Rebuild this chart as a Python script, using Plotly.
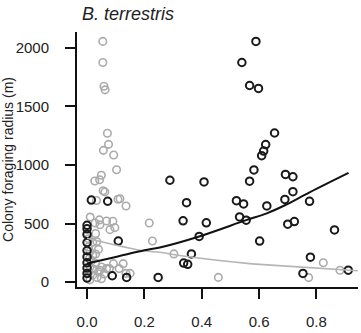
import plotly.graph_objects as go

# Black series (x, y)
black_x = [0.589, 0.540, 0.567, 0.598, 0.654, 0.623, 0.616, 0.609, 0.289, 0.408,
           0.567, 0.582, 0.347, 0.335, 0.416, 0.391, 0.364, 0.337, 0.351, 0.248,
           0.521, 0.546, 0.532, 0.555, 0.602, 0.692, 0.718, 0.718, 0.690, 0.627,
           0.776, 0.700, 0.723, 0.863, 0.779, 0.753, 0.911, 0.109, 0.088, 0.138,
           0.015, 0.072, 0.0, 0.0, 0.0, 0.0, 0.0, 0.0, 0.0, 0.0, 0.0, 0.0]
black_y = [2053, 1873, 1677, 1652, 1272, 1173, 1118, 1079, 869, 855,
           861, 957, 678, 523, 506, 390, 241, 163, 152, 41,
           695, 667, 556, 529, 351, 919, 899, 772, 706, 650,
           689, 495, 517, 446, 213, 75, 102, 351, 55, 41,
           700, 690, 485, 455, 408, 338, 270, 215, 165, 120, 75, 35]

# Gray series (x, y)
gray_x = [0.055, 0.055, 0.059, 0.063, 0.071, 0.075, 0.057, 0.093, 0.103, 0.050,
          0.027, 0.044, 0.062, 0.033, 0.108, 0.136, 0.056, 0.115,
          0.011, 0.028, 0.045, 0.043, 0.068, 0.090, 0.080, 0.030, 0.020, 0.034,
          0.217, 0.228, 0.097,
          0.126, 0.092, 0.150, 0.045, 0.068, 0.078, 0.112, 0.136,
          0.005, 0.010, 0.020, 0.008, 0.015, 0.030, 0.010, 0.025, 0.040, 0.005,
          0.020, 0.035, 0.010, 0.050, 0.060, 0.050, 0.030, 0.000, 0.005, 0.040,
          0.303, 0.458, 0.773, 0.824, 0.882]
gray_y = [2053, 1873, 1670, 1640, 1270, 1175, 1124, 1085, 958, 912,
          863, 873, 770, 697, 707, 650, 780, 711,
          555, 504, 490, 531, 522, 520, 448, 415, 340, 346,
          504, 351, 465,
          158, 158, 75, 102, 116, 116, 116, 75,
          300, 260, 230, 200, 180, 160, 130, 110, 90, 80,
          60, 40, 20, 130, 70, 30, 240, 400, 370, 280,
          241, 41, 39, 166, 102]

# Fitted curves
black_fit_x = [0.0, 0.1, 0.2, 0.254, 0.391, 0.555, 0.627, 0.690, 0.776, 0.912]
black_fit_y = [160, 215, 272, 296, 390, 529, 587, 656, 766, 932]
gray_fit_x = [0.0, 0.196, 0.254, 0.323, 0.567, 0.602, 0.944]
gray_fit_y = [375, 268, 255, 227, 158, 152, 97]

x_ticks = [0.0, 0.2, 0.4, 0.6, 0.8]
x_tick_labels = ["0.0", "0.2", "0.4", "0.6", "0.8"]
y_ticks = [0, 500, 1000, 1500, 2000]

FONT = "Liberation Sans, Arial, Helvetica, sans-serif"

fig = go.Figure()
fig.add_trace(go.Scatter(x=gray_x, y=gray_y, mode="markers",
                         marker=dict(symbol="circle-open", size=7.5, color="#ababab",
                                     line=dict(width=1.6, color="#ababab")),
                         showlegend=False, hoverinfo="skip"))
fig.add_trace(go.Scatter(x=black_x, y=black_y, mode="markers",
                         marker=dict(symbol="circle-open", size=7.5, color="#1a1a1a",
                                     line=dict(width=2, color="#1a1a1a")),
                         showlegend=False, hoverinfo="skip"))
fig.add_trace(go.Scatter(x=gray_fit_x, y=gray_fit_y, mode="lines",
                         line=dict(color="#b4b4b4", width=1.6, shape="spline"),
                         showlegend=False, hoverinfo="skip"))
fig.add_trace(go.Scatter(x=black_fit_x, y=black_fit_y, mode="lines",
                         line=dict(color="#111111", width=2, shape="spline"),
                         showlegend=False, hoverinfo="skip"))

fig.update_layout(
    width=361, height=333,
    margin=dict(l=77, r=3, t=32, b=39),
    paper_bgcolor="white", plot_bgcolor="white",
    font=dict(family=FONT, size=14, color="#222222"),
    xaxis=dict(range=[-0.035, 0.945], showgrid=False, zeroline=False,
               showline=True, linewidth=2, linecolor="#111111",
               ticks="outside", ticklen=10, tickwidth=2, tickcolor="#111111",
               tickvals=x_ticks, ticktext=x_tick_labels, ticklabelstandoff=10,
               tickfont=dict(size=15, family=FONT, color="#222222")),
    yaxis=dict(range=[-41, 2133], showgrid=False, zeroline=False,
               showline=True, linewidth=2, linecolor="#111111",
               ticks="outside", ticklen=10, tickwidth=2, tickcolor="#111111",
               tickvals=y_ticks, ticklabelstandoff=13,
               tickfont=dict(size=15, family=FONT, color="#222222"),
               title=dict(text="Colony foraging radius (m)", standoff=2,
                          font=dict(size=14, family=FONT, color="#222222"))),
    annotations=[
        dict(text="<i>B. terrestris</i>", xref="paper", yref="paper",
             x=0.01, y=1.072, xanchor="left", yanchor="middle", showarrow=False,
             font=dict(size=18, family=FONT, color="#222222")),
    ],
)

fig.write_html("out.html", config={"displayModeBar": False},
               post_script="document.body.style.margin='0';document.body.style.overflow='hidden';")
